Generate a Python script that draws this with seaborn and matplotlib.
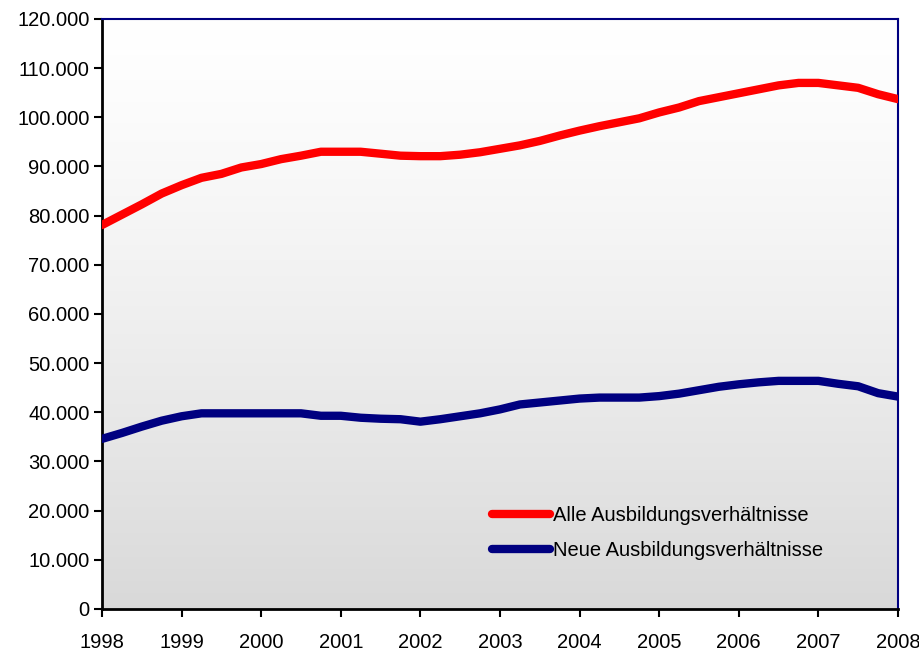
import numpy as np
import pandas as pd
import seaborn as sns
import matplotlib.pyplot as plt
import matplotlib.ticker as ticker

# quarterly values, 1998 - 2008
years = [1998 + q / 4 for q in range(41)]
alle = [78100, 80200, 82300, 84500, 86200, 87700, 88500, 89800, 90500, 91500,
        92200, 93000, 93000, 93000, 92600, 92200, 92100, 92100, 92400, 92900,
        93600, 94300, 95200, 96300, 97300, 98200, 99000, 99800, 101000, 102000,
        103300, 104100, 104900, 105700, 106500, 107000, 107000, 106500, 106000,
        104700, 103700]
neue = [34600, 35800, 37100, 38300, 39200, 39800, 39800, 39800, 39800, 39800,
        39800, 39300, 39300, 38900, 38700, 38600, 38100, 38600, 39200, 39800,
        40600, 41600, 42000, 42400, 42800, 43000, 43000, 43000, 43300, 43800,
        44500, 45200, 45700, 46100, 46400, 46400, 46400, 45800, 45300, 43900,
        43200]
series_names = ["Alle Ausbildungsverhältnisse", "Neue Ausbildungsverhältnisse"]
colors = ["#FF0000", "#000080"]
x_ticks = list(range(1998, 2009))
y_ticks = list(range(0, 120001, 10000))

df = pd.DataFrame({
    "Jahr": years * 2,
    "Wert": alle + neue,
    "Reihe": [series_names[0]] * len(years) + [series_names[1]] * len(years),
})

sns.set_style("white")
plt.rcParams["font.family"] = ["Liberation Sans", "DejaVu Sans"]
plt.rcParams["text.color"] = "black"

fig = plt.figure(figsize=(9.2, 6.51), dpi=100)
ax = fig.add_axes([102 / 920, 1 - 609 / 651, 796 / 920, 590 / 651])

# gradient background of the plot area (white on top, grey at the bottom)
t = np.linspace(0, 1, 256).reshape(-1, 1)
shade = 1 - 0.15 * t ** 1.3
ax.imshow(np.dstack([shade, shade, shade]), extent=[0, 1, 0, 1], origin="upper",
          transform=ax.transAxes, aspect="auto", zorder=0)

sns.lineplot(data=df, x="Jahr", y="Wert", hue="Reihe",
             palette=dict(zip(series_names, colors)),
             linewidth=6, ax=ax, legend=False, zorder=3)

ax.set_xlim(1998, 2008)
ax.set_ylim(0, 120000)
ax.set_xticks(x_ticks)
ax.set_yticks(y_ticks)
ax.yaxis.set_major_formatter(ticker.FuncFormatter(lambda v, p: f"{int(v):,}".replace(",", ".")))
ax.set_xlabel("")
ax.set_ylabel("")
ax.tick_params(axis="both", direction="out", length=6, width=1.5, color="black",
               labelsize=14.5, labelcolor="black", left=True, bottom=True)
ax.tick_params(axis="x", pad=11)
ax.tick_params(axis="y", pad=3)

for side in ["left", "bottom"]:
    ax.spines[side].set_color("black")
    ax.spines[side].set_linewidth(2)
for side in ["top", "right"]:
    ax.spines[side].set_color("#000080")
    ax.spines[side].set_linewidth(1.5)

handles = [plt.Line2D([], [], color=c, linewidth=6, solid_capstyle="round") for c in colors]
leg = ax.legend(handles, series_names, loc="upper left", bbox_to_anchor=(0.467, 0.205),
                frameon=False, fontsize=14.5, handlelength=2.9, handletextpad=0.15,
                labelspacing=0.8)
for txt in leg.get_texts():
    txt.set_color("black")

fig.savefig("out.png", dpi=100)
